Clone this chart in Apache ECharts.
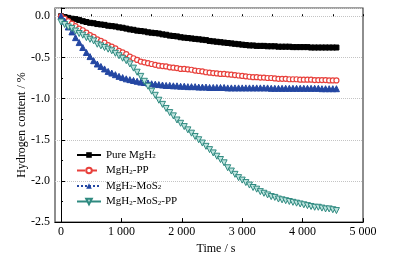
<!DOCTYPE html>
<html>
<head>
<meta charset="utf-8">
<script src="https://cdn.jsdelivr.net/npm/echarts@6/dist/echarts.min.js"></script>
<style>
html, body { margin: 0; padding: 0; background: #fff; }
#main { width: 396px; height: 260px; }
</style>
</head>
<body>
<div id="main"></div>
<script>
// time axis, s
var times = [
    0, 60, 120, 180, 240, 300, 360, 420, 480, 540,
    600, 660, 720, 780, 840, 900, 960, 1020, 1080, 1140,
    1200, 1260, 1320, 1380, 1440, 1500, 1560, 1620, 1680, 1740,
    1800, 1860, 1920, 1980, 2040, 2100, 2160, 2220, 2280, 2340,
    2400, 2460, 2520, 2580, 2640, 2700, 2760, 2820, 2880, 2940,
    3000, 3060, 3120, 3180, 3240, 3300, 3360, 3420, 3480, 3540,
    3600, 3660, 3720, 3780, 3840, 3900, 3960, 4020, 4080, 4140,
    4200, 4260, 4320, 4380, 4440, 4500, 4560
];
// hydrogen content, %
var pureMgH2 = [
    0, -0.01, -0.02, -0.03, -0.035, -0.045, -0.06, -0.07, -0.08, -0.085,
    -0.095, -0.10, -0.105, -0.115, -0.12, -0.125, -0.135, -0.14, -0.15, -0.16,
    -0.165, -0.175, -0.18, -0.185, -0.195, -0.20, -0.205, -0.21, -0.22, -0.225,
    -0.235, -0.24, -0.245, -0.255, -0.26, -0.265, -0.27, -0.275, -0.28, -0.285,
    -0.29, -0.30, -0.305, -0.31, -0.315, -0.32, -0.325, -0.33, -0.335, -0.34,
    -0.345, -0.35, -0.355, -0.355, -0.36, -0.36, -0.36, -0.365, -0.365, -0.365,
    -0.37, -0.37, -0.37, -0.37, -0.375, -0.375, -0.375, -0.375, -0.375, -0.38,
    -0.38, -0.38, -0.38, -0.38, -0.38, -0.38, -0.38
];
var mgH2PP = [
    0, -0.03, -0.06, -0.09, -0.12, -0.15, -0.17, -0.20, -0.23, -0.25,
    -0.28, -0.30, -0.32, -0.35, -0.37, -0.39, -0.42, -0.44, -0.46, -0.49,
    -0.51, -0.53, -0.55, -0.56, -0.57, -0.58, -0.59, -0.60, -0.605, -0.61,
    -0.62, -0.625, -0.63, -0.64, -0.64, -0.645, -0.65, -0.66, -0.665, -0.67,
    -0.68, -0.685, -0.69, -0.695, -0.70, -0.70, -0.705, -0.71, -0.715, -0.72,
    -0.725, -0.73, -0.735, -0.74, -0.74, -0.745, -0.745, -0.75, -0.75, -0.755,
    -0.76, -0.76, -0.76, -0.765, -0.765, -0.765, -0.77, -0.77, -0.77, -0.77,
    -0.775, -0.775, -0.775, -0.775, -0.78, -0.78, -0.78
];
var mgH2MoS2 = [
    0, -0.06, -0.13, -0.19, -0.26, -0.32, -0.38, -0.44, -0.49, -0.54,
    -0.58, -0.61, -0.64, -0.67, -0.69, -0.71, -0.73, -0.745, -0.76, -0.77,
    -0.78, -0.79, -0.80, -0.805, -0.81, -0.82, -0.825, -0.83, -0.835, -0.84,
    -0.84, -0.845, -0.845, -0.85, -0.85, -0.855, -0.855, -0.855, -0.86, -0.86,
    -0.86, -0.865, -0.865, -0.865, -0.865, -0.865, -0.87, -0.87, -0.87, -0.87,
    -0.87, -0.87, -0.87, -0.87, -0.87, -0.87, -0.87, -0.87, -0.875, -0.875,
    -0.875, -0.875, -0.875, -0.875, -0.875, -0.875, -0.875, -0.875, -0.875, -0.875,
    -0.875, -0.875, -0.88, -0.88, -0.88, -0.88, -0.88
];
var mgH2MoS2PP = [
    -0.07, -0.10, -0.13, -0.15, -0.18, -0.21, -0.23, -0.26, -0.28, -0.30,
    -0.34, -0.36, -0.38, -0.40, -0.42, -0.45, -0.48, -0.51, -0.54, -0.58,
    -0.63, -0.68, -0.73, -0.79, -0.85, -0.91, -0.96, -1.02, -1.07, -1.12,
    -1.17, -1.21, -1.26, -1.30, -1.34, -1.38, -1.42, -1.46, -1.50, -1.54,
    -1.58, -1.62, -1.66, -1.70, -1.74, -1.78, -1.84, -1.88, -1.92, -1.96,
    -1.99, -2.02, -2.05, -2.08, -2.10, -2.13, -2.15, -2.17, -2.19, -2.20,
    -2.22, -2.23, -2.24, -2.25, -2.26, -2.27, -2.28, -2.29, -2.30, -2.31,
    -2.32, -2.32, -2.33, -2.34, -2.34, -2.35, -2.36
];
var xLabels = [0, 1000, 2000, 3000, 4000, 5000];
var xTicks = [0, 500, 1000, 1500, 2000, 2500, 3000, 3500, 4000, 4500, 5000];

var font = '"Liberation Serif", "Times New Roman", serif';

function pairs(ys) {
    var out = [];
    for (var i = 0; i < times.length; i++) out.push([times[i], ys[i]]);
    return out;
}
function fmtThousand(v) {
    if (v >= 1000) return Math.floor(v / 1000) + ' 000';
    return String(v);
}

var chart = echarts.init(document.getElementById('main'), null, {renderer: 'canvas'});
var rich = {
    sub: {fontSize: 7, fontFamily: font, color: '#000', verticalAlign: 'bottom', lineHeight: 10, padding: [5, 0, 0, 0]},
    n: {fontSize: 11, fontFamily: font, color: '#000', lineHeight: 10}
};
var legendNames = {
    'Pure MgH2': '{n|Pure MgH}{sub|2}',
    'MgH2-PP': '{n|MgH}{sub|2}{n|-PP}',
    'MgH2-MoS2': '{n|MgH}{sub|2}{n|-MoS}{sub|2}',
    'MgH2-MoS2-PP': '{n|MgH}{sub|2}{n|-MoS}{sub|2}{n|-PP}'
};

var option = {
    animation: false,
    backgroundColor: '#fff',
    grid: {left: 55, top: 8, right: 33, bottom: 35, show: true, borderColor: '#444', borderWidth: 1.2, backgroundColor: 'transparent'},
    legend: {
        left: 71, top: 143, orient: 'vertical',
        itemWidth: 24, itemHeight: 7, itemGap: 3,
        data: ['Pure MgH2', 'MgH2-PP', 'MgH2-MoS2', 'MgH2-MoS2-PP'],
        formatter: function (name) { return legendNames[name]; },
        textStyle: {fontFamily: font, fontSize: 11, color: '#000', rich: rich}
    },
    xAxis: [{
        type: 'value', min: -100, max: 5000,
        name: 'Time / s', nameLocation: 'middle', nameGap: 17,
        nameTextStyle: {fontFamily: font, fontSize: 12, color: '#000', padding: [0, 0, 0, 14]},
        axisLine: {onZero: false, lineStyle: {color: '#000', width: 1}},
        axisTick: {inside: true, length: 4, customValues: xLabels, lineStyle: {color: '#000'}},
        axisLabel: {customValues: xLabels, formatter: fmtThousand, fontFamily: font, fontSize: 12, color: '#000', margin: 4},
        splitLine: {show: false}
    }, {
        type: 'value', min: -100, max: 5000, position: 'bottom',
        axisLine: {show: false},
        axisTick: {inside: true, length: 2, customValues: xTicks, lineStyle: {color: '#000'}},
        axisLabel: {show: false},
        splitLine: {show: false}
    }],
    yAxis: {
        type: 'value', min: -2.5, max: 0.1, interval: 0.5,
        name: 'Hydrogen content / %', nameLocation: 'middle', nameGap: 27, nameMoveOverlap: false,
        nameTextStyle: {fontFamily: font, fontSize: 12, color: '#000', padding: [0, 20, 0, 0]},
        axisLine: {lineStyle: {color: '#000', width: 1}},
        axisTick: {inside: true, length: 4, lineStyle: {color: '#000'}},
        minorTick: {show: true, splitNumber: 2, length: 2, lineStyle: {color: '#000'}},
        axisLabel: {
            fontFamily: font, fontSize: 12, color: '#000', margin: 5, showMaxLabel: false,
            formatter: function (v) {
                if (Math.abs(v * 2 - Math.round(v * 2)) > 1e-6) return '';
                return v.toFixed(1);
            }
        },
        splitLine: {show: true, lineStyle: {color: '#c4c4c4', width: 1, type: 'dotted'}}
    },
    series: [{
        name: 'Pure MgH2', type: 'line', data: pairs(pureMgH2),
        symbol: 'rect', symbolSize: 5, showAllSymbol: true,
        lineStyle: {color: '#000', width: 2},
        itemStyle: {color: '#000', borderColor: '#000'}
    }, {
        name: 'MgH2-PP', type: 'line', data: pairs(mgH2PP),
        symbol: 'circle', symbolSize: 5, showAllSymbol: true,
        lineStyle: {color: '#e8413c', width: 1, type: 'dashed'},
        itemStyle: {color: '#fff', borderColor: '#e8413c', borderWidth: 1.2}
    }, {
        name: 'MgH2-MoS2', type: 'line', data: pairs(mgH2MoS2),
        symbol: 'triangle', symbolSize: 6, showAllSymbol: true,
        lineStyle: {color: '#2447a3', width: 1, type: 'dotted'},
        itemStyle: {color: '#2447a3', borderColor: '#2447a3'}
    }, {
        name: 'MgH2-MoS2-PP', type: 'line', data: pairs(mgH2MoS2PP),
        symbol: 'path://M0,0L10,0L5,9Z', symbolSize: 6, showAllSymbol: true,
        lineStyle: {color: '#2f8a80', width: 1},
        itemStyle: {color: '#bfe4df', borderColor: '#2f8a80', borderWidth: 1}
    }]
};
chart.setOption(option);
</script>
</body>
</html>
